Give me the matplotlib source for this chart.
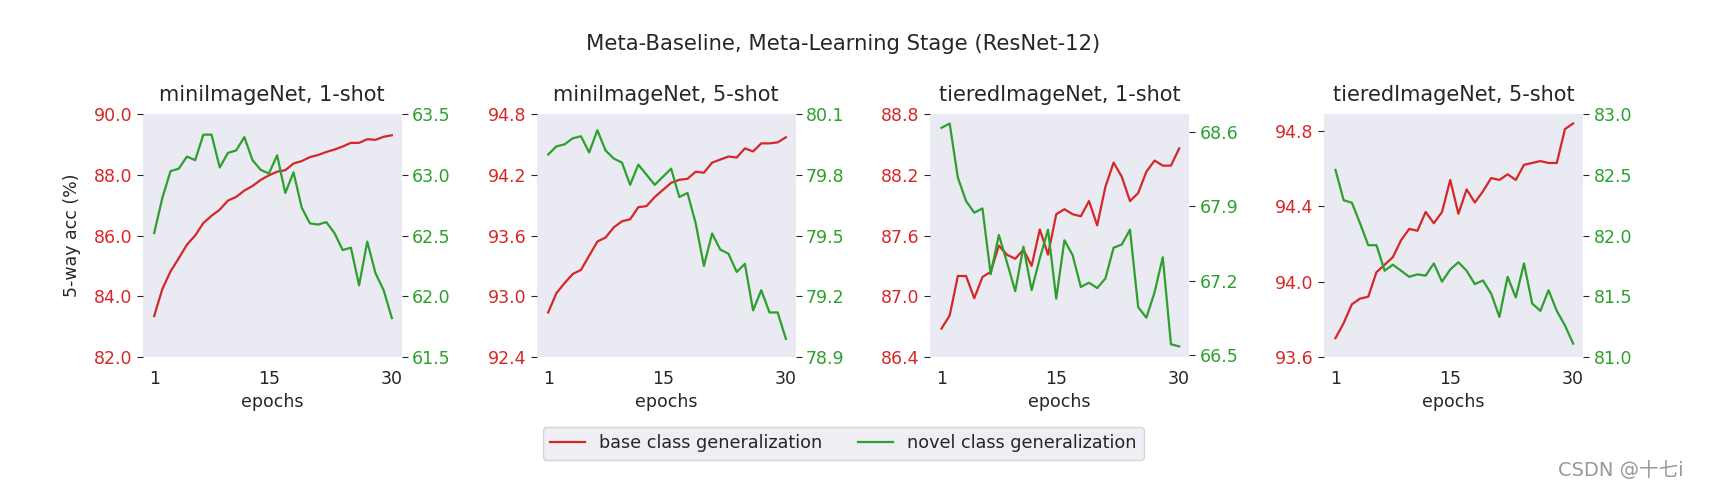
import matplotlib
matplotlib.use("Agg")
import matplotlib.pyplot as plt

epochs = list(range(1, 31))

titles = ["miniImageNet, 1-shot", "miniImageNet, 5-shot",
          "tieredImageNet, 1-shot", "tieredImageNet, 5-shot"]

# base class generalization (left axis, red)
base_mini_1 = [83.35, 84.24, 84.82, 85.25, 85.7, 86.0, 86.41, 86.65, 86.85, 87.15,
               87.27, 87.48, 87.63, 87.83, 87.98, 88.1, 88.15, 88.37, 88.45, 88.58,
               88.65, 88.75, 88.83, 88.93, 89.05, 89.05, 89.17, 89.15, 89.25, 89.3]
base_mini_5 = [92.84, 93.03, 93.13, 93.22, 93.26, 93.4, 93.54, 93.58, 93.68, 93.74,
               93.76, 93.88, 93.89, 93.98, 94.05, 94.12, 94.15, 94.16, 94.23, 94.22,
               94.32, 94.35, 94.38, 94.37, 94.46, 94.43, 94.51, 94.51, 94.52, 94.57]
base_tiered_1 = [86.68, 86.81, 87.2, 87.2, 86.98, 87.19, 87.24, 87.5, 87.41, 87.37,
                 87.46, 87.3, 87.66, 87.41, 87.81, 87.86, 87.81, 87.79, 87.94, 87.7,
                 88.08, 88.32, 88.18, 87.94, 88.02, 88.23, 88.34, 88.29, 88.29, 88.46]
base_tiered_5 = [93.7, 93.78, 93.88, 93.91, 93.92, 94.05, 94.09, 94.13, 94.22, 94.28,
                 94.27, 94.37, 94.31, 94.37, 94.54, 94.36, 94.49, 94.42, 94.48, 94.55,
                 94.54, 94.57, 94.54, 94.62, 94.63, 94.64, 94.63, 94.63, 94.81, 94.84]

# novel class generalization (right axis, green)
novel_mini_1 = [62.52, 62.81, 63.03, 63.05, 63.15, 63.12, 63.33, 63.33, 63.06, 63.18,
                63.2, 63.31, 63.12, 63.04, 63.01, 63.16, 62.85, 63.02, 62.73, 62.6,
                62.59, 62.61, 62.52, 62.38, 62.4, 62.09, 62.45, 62.19, 62.05, 61.82]
novel_mini_5 = [79.9, 79.94, 79.95, 79.98, 79.99, 79.91, 80.02, 79.92, 79.88, 79.86,
                79.75, 79.85, 79.8, 79.75, 79.79, 79.83, 79.69, 79.71, 79.56, 79.35,
                79.51, 79.43, 79.41, 79.32, 79.36, 79.13, 79.23, 79.12, 79.12, 78.99]
novel_tiered_1 = [68.64, 68.68, 68.17, 67.95, 67.84, 67.88, 67.26, 67.63, 67.37, 67.1,
                  67.52, 67.11, 67.41, 67.68, 67.03, 67.58, 67.44, 67.14, 67.18, 67.13,
                  67.22, 67.51, 67.54, 67.68, 66.95, 66.85, 67.09, 67.42, 66.6, 66.58]
novel_tiered_5 = [82.54, 82.29, 82.27, 82.1, 81.92, 81.92, 81.71, 81.76, 81.71, 81.66,
                  81.68, 81.67, 81.77, 81.62, 81.72, 81.78, 81.71, 81.6, 81.63, 81.52,
                  81.33, 81.66, 81.49, 81.77, 81.44, 81.38, 81.55, 81.38, 81.26, 81.11]

base_all = [base_mini_1, base_mini_5, base_tiered_1, base_tiered_5]
novel_all = [novel_mini_1, novel_mini_5, novel_tiered_1, novel_tiered_5]

left_lims = [(82.0, 90.0), (92.4, 94.8), (86.4, 88.8), (93.6, 94.89)]
left_ticks = [[82.0, 84.0, 86.0, 88.0, 90.0], [92.4, 93.0, 93.6, 94.2, 94.8],
              [86.4, 87.0, 87.6, 88.2, 88.8], [93.6, 94.0, 94.4, 94.8]]
right_lims = [(61.5, 63.5), (78.9, 80.1), (66.48, 68.77), (81.0, 83.0)]
right_ticks = [[61.5, 62.0, 62.5, 63.0, 63.5], [78.9, 79.2, 79.5, 79.8, 80.1],
               [66.5, 67.2, 67.9, 68.6], [81.0, 81.5, 82.0, 82.5, 83.0]]

RED = "#d62728"
GREEN = "#2ca02c"
TXT = "#262626"

plt.rcParams['font.family'] = ['DejaVu Sans', 'Noto Sans CJK SC']

fig = plt.figure(figsize=(17.14, 4.9), dpi=100)

lefts = [142.7, 536.7, 930.0, 1324.0]
for i in range(4):
    ax = fig.add_axes([lefts[i] / 1714, 1 - 357 / 490, 259 / 1714, 243 / 490])
    ax.set_facecolor("#EAEAF2")
    for s in ax.spines.values():
        s.set_visible(False)
    l1, = ax.plot(epochs, base_all[i], color=RED, lw=1.6, label="base class generalization")
    ax.set_ylim(*left_lims[i])
    ax.set_yticks(left_ticks[i])
    ax.set_yticklabels([f"{t:.1f}" for t in left_ticks[i]])
    ax.tick_params(axis='y', colors=TXT, labelcolor=RED, labelsize=12.5, length=4, width=0.8)
    ax.tick_params(axis='x', length=0, labelsize=12.5, labelcolor=TXT, pad=9)
    ax.set_xticks([1, 15, 30])
    ax.set_xlim(-0.4, 31.2)
    ax.set_xlabel("epochs", fontsize=12.5, color=TXT, labelpad=4)
    ax.set_title(titles[i], fontsize=15, color=TXT, pad=9)
    if i == 0:
        ax.set_ylabel("5-way acc (%)", fontsize=12.5, color=TXT, labelpad=9)

    ax2 = ax.twinx()
    for s in ax2.spines.values():
        s.set_visible(False)
    l2, = ax2.plot(epochs, novel_all[i], color=GREEN, lw=1.6, label="novel class generalization")
    ax2.set_ylim(*right_lims[i])
    ax2.set_yticks(right_ticks[i])
    ax2.set_yticklabels([f"{t:.1f}" for t in right_ticks[i]])
    ax2.tick_params(axis='y', colors=TXT, labelcolor=GREEN, labelsize=12.5, length=4, width=0.8)

fig.suptitle("Meta-Baseline, Meta-Learning Stage (ResNet-12)", fontsize=15.2, color=TXT,
             x=0.492, y=0.91, va="center")

leg = fig.legend([l1, l2], ["base class generalization", "novel class generalization"],
                 loc="center", bbox_to_anchor=(0.492, 0.095), ncol=2, fontsize=12.7,
                 frameon=True, facecolor="#EAEAF2", edgecolor="#cccccc", handlelength=2.0,
                 columnspacing=2.0)
for t in leg.get_texts():
    t.set_color(TXT)

fig.text(0.982, 0.02, "CSDN @十七i", ha="right", va="bottom", fontsize=14, color="#999999",
         family=['DejaVu Sans', 'Noto Sans CJK SC'])

fig.savefig("out.png", dpi=100)
